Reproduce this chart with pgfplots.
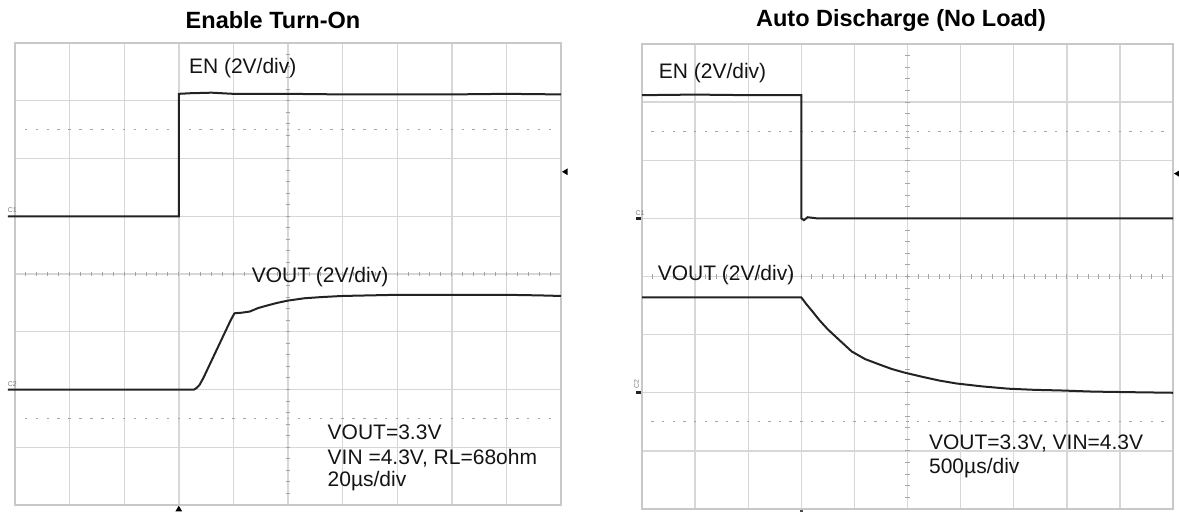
\documentclass[border=0pt]{standalone}
\usepackage{fontspec}
\setmainfont{Liberation Sans}
\usepackage{pgfplots}
\pgfplotsset{compat=1.18}
\definecolor{gridc}{RGB}{215,215,215}
\definecolor{framec}{RGB}{200,200,200}
\definecolor{tickc}{RGB}{165,165,165}
\definecolor{trace}{RGB}{35,35,35}
\definecolor{txt}{RGB}{20,20,20}
\pgfplotsset{oscgrid/.style={scale only axis, xmin=0, xmax=10, ymin=0, ymax=8,
  xtick=\empty, ytick=\empty, clip=false,
  axis line style={framec, line width=0.8pt}}}
\newcommand{\oscgriddraw}{%
  \foreach \i in {1,...,9} {\draw[gridc, line width=0.7pt] (\i,0) -- (\i,8);}
  \foreach \j in {1,...,7} {\draw[gridc, line width=0.7pt] (0,\j) -- (10,\j);}
  \foreach \i in {0.2,0.4,...,9.9} {%
    \draw[tickc, line width=0.5pt] (\i,4) ++(0pt,-1.2pt) -- ++(0pt,2.4pt);
    \draw[tickc, line width=0.5pt] (\i,6.5) ++(-0.6pt,0pt) -- ++(1.2pt,0pt);
    \draw[tickc, line width=0.5pt] (\i,1.5) ++(-0.6pt,0pt) -- ++(1.2pt,0pt);}
  \foreach \j in {0.2,0.4,...,7.9} {\draw[tickc, line width=0.5pt] (5,\j) ++(-1.2pt,0pt) -- ++(2.4pt,0pt);}
  \fill[black] (10,5.77) ++(0.5pt,0pt) -- ++(2.8pt,1.7pt) -- ++(0pt,-3.4pt) -- cycle;
}
\begin{document}
\begin{tikzpicture}
\useasboundingbox (0,0) rectangle (589.5pt,-255.5pt);
% ---------------- Left: Enable Turn-On ----------------
\begin{scope}[shift={(7.5pt,-252.5pt)}, x=27.3pt, y=28.875pt]
\oscgriddraw
\fill[black] (3,0) ++(0pt,-0.3pt) -- ++(-1.7pt,-2.9pt) -- ++(3.4pt,0pt) -- cycle;
\end{scope}
\begin{axis}[oscgrid, width=273pt, height=231pt, at={(7.5pt,-252.5pt)}, anchor=south west]
\addplot[trace, line width=1pt] coordinates {
(-0.13,5.0) (3.0,5.0) (3.0,7.12) (3.2,7.13) (3.6,7.14) (4.0,7.12) (5.0,7.12) (6.0,7.11) (7.0,7.11) (8.0,7.11) (9.0,7.12) (10,7.11)};
\addplot[trace, line width=1pt] coordinates {
(-0.13,2.0) (3.28,2.0) (3.33,2.03) (3.38,2.08) (3.45,2.2) (3.7,2.7) (3.95,3.2) (4.02,3.32) (4.15,3.33) (4.3,3.35) (4.45,3.41) (4.6,3.45) (4.8,3.5) (5.0,3.54) (5.3,3.58) (5.6,3.6) (6.0,3.62) (6.5,3.63) (7.0,3.64) (8.0,3.64) (9.0,3.64) (9.6,3.63) (10,3.62)};
\node[font=\fontsize{3.5}{4}\selectfont, text=gray, anchor=south west, inner sep=0pt] at (axis cs:-0.14,5.05) {C1};
\node[font=\fontsize{3.5}{4}\selectfont, text=gray, anchor=south west, inner sep=0pt] at (axis cs:-0.14,2.05) {C2};
\node[font=\fontsize{10.5}{12}\selectfont, text=txt, anchor=base west, inner sep=0pt] at (axis cs:3.18,7.48) {EN (2V/div)};
\node[font=\fontsize{10.5}{12}\selectfont, text=txt, anchor=base west, inner sep=0pt] at (axis cs:4.33,3.86) {VOUT (2V/div)};
\node[font=\fontsize{10.5}{12}\selectfont, text=txt, anchor=base west, inner sep=0pt] at (axis cs:5.72,1.13) {VOUT=3.3V};
\node[font=\fontsize{10.5}{12}\selectfont, text=txt, anchor=base west, inner sep=0pt] at (axis cs:5.72,0.71) {VIN =4.3V, RL=68ohm};
\node[font=\fontsize{10.5}{12}\selectfont, text=txt, anchor=base west, inner sep=0pt] at (axis cs:5.72,0.32) {20µs/div};
\node[font=\bfseries\fontsize{11.75}{14}\selectfont, text=black, inner sep=0pt] at (rel axis cs:0.4725,1) [yshift=11.5pt] {Enable Turn-On};
\end{axis}
% ---------------- Right: Auto Discharge ----------------
\begin{scope}[shift={(321pt,-254.5pt)}, x=26.55pt, y=29.0625pt]
\oscgriddraw
\fill[black!70] (3,0) ++(-0.6pt,-0.4pt) rectangle ++(1.2pt,-1.2pt);
\draw[trace, line width=1.4pt] (-0.11,5) -- (0,5);
\draw[trace, line width=1.4pt] (-0.11,2) -- (0,2);
\end{scope}
\begin{axis}[oscgrid, width=265.5pt, height=232.5pt, at={(321pt,-254.5pt)}, anchor=south west]
\addplot[trace, line width=1pt] coordinates {
(0,7.12) (1.0,7.13) (2.0,7.12) (3.0,7.12) (3.0,5.0) (3.05,4.97) (3.12,5.02) (3.3,5.0) (4.0,5.0) (5.0,5.0) (6.0,5.0) (7.0,5.0) (8.0,5.0) (9.0,5.0) (10,5.0)};
\addplot[trace, line width=1pt] coordinates {
(0,3.64) (1.0,3.64) (2.0,3.64) (3.0,3.64) (3.1,3.52) (3.2,3.41) (3.34,3.25) (3.5,3.09) (3.7,2.92) (3.95,2.71) (4.2,2.58) (4.46,2.49) (4.7,2.41) (4.93,2.35) (5.3,2.27) (5.6,2.21) (5.92,2.16) (6.4,2.11) (6.9,2.07) (7.4,2.05) (7.87,2.04) (8.5,2.02) (9.2,2.01) (10,2.0)};
\node[font=\fontsize{3.5}{4}\selectfont, text=gray, anchor=south west, inner sep=0pt] at (axis cs:-0.13,5.05) {C1};
\node[font=\fontsize{3.5}{4}\selectfont, text=gray, rotate=90, anchor=south west, inner sep=0pt] at (axis cs:-0.05,2.07) {C2};
\node[font=\fontsize{10.5}{12}\selectfont, text=txt, anchor=base west, inner sep=0pt] at (axis cs:0.31,7.40) {EN (2V/div)};
\node[font=\fontsize{10.5}{12}\selectfont, text=txt, anchor=base west, inner sep=0pt] at (axis cs:0.29,3.93) {VOUT (2V/div)};
\node[font=\fontsize{10.5}{12}\selectfont, text=txt, anchor=base west, inner sep=0pt] at (axis cs:5.40,1.03) {VOUT=3.3V, VIN=4.3V};
\node[font=\fontsize{10.5}{12}\selectfont, text=txt, anchor=base west, inner sep=0pt] at (axis cs:5.40,0.61) {500µs/div};
\node[font=\bfseries\fontsize{11.75}{14}\selectfont, text=black, inner sep=0pt] at (rel axis cs:0.4878,1) [yshift=12pt] {Auto Discharge (No Load)};
\end{axis}
\end{tikzpicture}
\end{document}
